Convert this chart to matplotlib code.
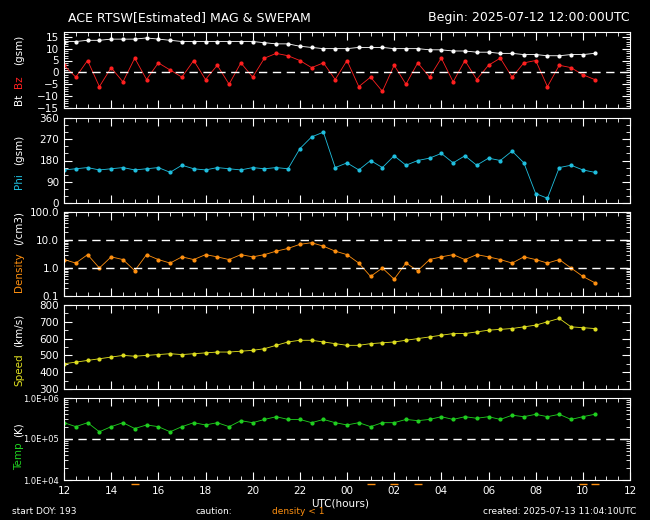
import numpy as np
import matplotlib
matplotlib.use("Agg")
import matplotlib.pyplot as plt
from matplotlib.ticker import FixedLocator, MultipleLocator, NullFormatter
from matplotlib.transforms import blended_transform_factory

# time in hours since 2025-07-12 00:00 UTC, half-hour sampling
hours = [12 + 0.5 * i for i in range(46)]
bt = [13, 13, 13.5, 13.5, 14, 14, 14, 14.5, 14, 13.5, 13, 13, 13, 13, 13, 13, 13, 12.5, 12, 12,
      11, 10.5, 10, 10, 10, 10.5, 10.5, 10.5, 10, 10, 10, 9.5, 9.5, 9, 9, 8.5, 8.5, 8, 8, 7.5,
      7.5, 7, 7, 7.5, 7.5, 8]
bz = [3, -2, 5, -6, 2, -4, 6, -3, 4, 1, -2, 5, -3, 3, -5, 4, -2, 6, 8, 7, 5, 2, 4, -3, 5, -6,
      -2, -8, 3, -5, 4, -2, 6, -4, 5, -3, 3, 6, -2, 4, 5, -6, 3, 2, -1, -3]
phi = [140, 145, 150, 140, 145, 150, 140, 145, 150, 130, 160, 145, 140, 150, 145, 140, 150, 145, 150, 145,
       230, 280, 300, 150, 170, 140, 180, 150, 200, 160, 180, 190, 210, 170, 200, 160, 190, 180, 220, 170,
       40, 20, 150, 160, 140, 130]
density = [2.0, 1.5, 3.0, 1.0, 2.5, 2.0, 0.8, 3.0, 2.0, 1.5, 2.5, 2.0, 3.0, 2.5, 2.0, 3.0, 2.5, 3.0, 4.0, 5.0,
           7.0, 8.0, 6.0, 4.0, 3.0, 1.5, 0.5, 1.0, 0.4, 1.5, 0.8, 2.0, 2.5, 3.0, 2.0, 3.0, 2.5, 2.0, 1.5, 2.5,
           2.0, 1.5, 2.0, 1.0, 0.5, 0.3]
speed = [450, 460, 470, 480, 490, 500, 495, 500, 505, 510, 505, 510, 515, 520, 520, 525, 530, 540, 560, 580,
         590, 590, 580, 570, 560, 560, 570, 575, 580, 590, 600, 610, 620, 630, 630, 640, 650, 655, 660, 670,
         680, 700, 720, 670, 665, 660]
temp = [2.5e5, 2.0e5, 2.5e5, 1.5e5, 2.0e5, 2.5e5, 1.8e5, 2.2e5, 2.0e5, 1.5e5, 2.0e5, 2.5e5, 2.2e5, 2.5e5, 2.0e5, 2.8e5,
        2.5e5, 3.0e5, 3.5e5, 3.0e5, 3.0e5, 2.5e5, 3.0e5, 2.5e5, 2.2e5, 2.5e5, 2.0e5, 2.5e5, 2.5e5, 3.0e5, 2.8e5, 3.0e5,
        3.5e5, 3.0e5, 3.5e5, 3.2e5, 3.5e5, 3.0e5, 3.8e5, 3.5e5, 4.0e5, 3.5e5, 4.0e5, 3.0e5, 3.5e5, 4.0e5]
xticks = [12, 14, 16, 18, 20, 22, 24, 26, 28, 30, 32, 34, 36]
xticklabels = ["12", "14", "16", "18", "20", "22", "00", "02", "04", "06", "08", "10", "12"]

W, H = 650, 520
fig = plt.figure(figsize=(W / 100, H / 100), dpi=100, facecolor="black")
plt.rcParams["font.family"] = "DejaVu Sans"
fs = 7.5
panels = [(32, 108), (118, 203), (212, 296), (305, 389), (398, 480)]
x0, x1 = 64, 630
axes = []
for (t, b) in panels:
    ax = fig.add_axes([x0 / W, 1 - b / H, (x1 - x0) / W, (b - t) / H], facecolor="black")
    for s in ax.spines.values():
        s.set_color("white")
    ax.set_xlim(12, 36)
    ax.xaxis.set_major_locator(FixedLocator(xticks))
    ax.xaxis.set_minor_locator(MultipleLocator(0.5))
    ax.tick_params(which="both", direction="in", colors="white", top=True, right=True, labelsize=fs)
    ax.tick_params(which="major", length=6)
    ax.tick_params(which="minor", length=3)
    ax.set_xticklabels([])
    axes.append(ax)


def ylab(text, ycenter, color):
    fig.text(19 / W, 1 - ycenter / H, text, color=color, rotation=90, fontsize=fs,
             ha="center", va="center")


ms = 2
ax = axes[0]
ax.plot(hours, bt, "o-", color="white", ms=ms, lw=0.6)
ax.plot(hours, bz, "o-", color="#ff2020", ms=ms, lw=0.6)
ax.set_ylim(-15, 17)
ax.set_yticks([-15, -10, -5, 0, 5, 10, 15])
ax.yaxis.set_minor_locator(MultipleLocator(1))
ax.axhline(0, color="white", ls=(0, (6, 4)), lw=1)
ylab("Bt", 99, "white")
ylab("Bz", 82, "#ff2020")
ylab("(gsm)", 50, "white")

ax = axes[1]
ax.plot(hours, phi, "o-", color="#20c0e0", ms=ms, lw=0.6)
ax.set_ylim(0, 360)
ax.set_yticks([0, 90, 180, 270, 360])
ax.yaxis.set_minor_locator(MultipleLocator(30))
ylab("Phi", 181, "#20c0e0")
ylab("(gsm)", 150, "white")

ax = axes[2]
ax.plot(hours, density, "o-", color="#ff9010", ms=ms, lw=0.6)
ax.set_yscale("log")
ax.set_ylim(0.1, 100)
ax.set_yticks([0.1, 1, 10, 100])
ax.set_yticklabels(["0.1", "1.0", "10.0", "100.0"])
ax.yaxis.set_minor_formatter(NullFormatter())
ax.tick_params(which="both", direction="in", colors="white", labelsize=fs)
for v in (1, 10):
    ax.axhline(v, color="white", ls=(0, (6, 4)), lw=1)
ylab("Density", 272, "#ff9010")
ylab("(/cm3)", 228, "white")

ax = axes[3]
ax.plot(hours, speed, "o-", color="#e0e020", ms=ms, lw=0.6)
ax.set_ylim(300, 800)
ax.set_yticks(range(300, 801, 100))
ax.yaxis.set_minor_locator(MultipleLocator(50))
ylab("Speed", 370, "#e0e020")
ylab("(km/s)", 330, "white")

ax = axes[4]
ax.plot(hours, temp, "o-", color="#20d020", ms=ms, lw=0.6)
ax.set_yscale("log")
ax.set_ylim(1e4, 1e6)
ax.set_yticks([1e4, 1e5, 1e6])
ax.set_yticklabels(["1.0E+04", "1.0E+05", "1.0E+06"])
ax.yaxis.set_minor_formatter(NullFormatter())
ax.tick_params(which="both", direction="in", colors="white", labelsize=fs - 1.5)
ax.axhline(1e5, color="white", ls=(0, (6, 4)), lw=1)
ylab("Temp", 456, "#20d020")
ylab("(K)", 430, "white")
ax.set_xticklabels(xticklabels)
ax.tick_params(axis="x", pad=4, labelsize=fs)
# density < 1 markers just below axis
low = [h for h, d in zip(hours, density) if d < 1]
tr = blended_transform_factory(ax.transData, ax.transAxes)
ax.plot(low, [-0.05] * len(low), "_", color="#ff9010", ms=6, clip_on=False, transform=tr)

fig.text(340 / W, 1 - 504 / H, "UTC(hours)", color="white", fontsize=fs, ha="center", va="center")
fig.text(68 / W, 1 - 18 / H, "ACE RTSW[Estimated] MAG & SWEPAM", color="white", fontsize=9, va="center")
fig.text(630 / W, 1 - 18 / H, "Begin: 2025-07-12 12:00:00UTC", color="white", fontsize=9, va="center", ha="right")
fig.text(12 / W, 1 - 512 / H, "start DOY: 193", color="white", fontsize=6.5, va="center")
fig.text(195 / W, 1 - 512 / H, "caution:", color="white", fontsize=6.5, va="center")
fig.text(272 / W, 1 - 512 / H, "density < 1", color="#ff9010", fontsize=6.5, va="center")
fig.text(636 / W, 1 - 512 / H, "created: 2025-07-13 11:04:10UTC", color="white", fontsize=6.5, va="center", ha="right")

fig.savefig("out.png", dpi=100, facecolor="black")
